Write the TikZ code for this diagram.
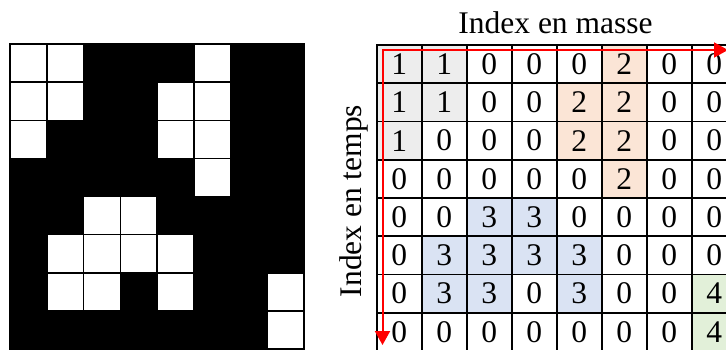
\documentclass[tikz,border=0pt]{standalone}
\usepackage{fontspec}
\setmainfont{Liberation Serif}
\usetikzlibrary{arrows.meta}
\definecolor{c0}{HTML}{FFFFFF}
\definecolor{c1}{HTML}{EDEDED}
\definecolor{c2}{HTML}{FBE5D6}
\definecolor{c3}{HTML}{DAE3F3}
\definecolor{c4}{HTML}{E2F0D9}
\colorlet{l0}{black}
\colorlet{l1}{white}
\colorlet{l2}{white}
\colorlet{l3}{white}
\colorlet{l4}{white}
\begin{document}
\begin{tikzpicture}[x=1pt,y=-1pt,
  numcell/.style={draw=black,line width=1.8pt,minimum width=45pt,minimum height=38.25pt,inner sep=0pt,outer sep=0pt,font=\fontsize{31.5}{36}\selectfont},
  pixcell/.style={draw=black,line width=1.5pt,minimum width=36.75pt,minimum height=38.125pt,inner sep=0pt,outer sep=0pt},
  axislabel/.style={font=\fontsize{31.5}{36}\selectfont,inner sep=0pt},
  redarrow/.style={draw=red,line width=2pt,line join=miter,{Triangle[length=14pt,width=15pt]}-{Triangle[length=14pt,width=15pt]}}]
\useasboundingbox (0,0) rectangle (726,349);
\clip (0,0) rectangle (726,349);
\def\matdata{{1,1,0,0,0,2,0,0},{1,1,0,0,2,2,0,0},{1,0,0,0,2,2,0,0},{0,0,0,0,0,2,0,0},{0,0,3,3,0,0,0,0},{0,3,3,3,3,0,0,0},{0,3,3,0,3,0,0,4},{0,0,0,0,0,0,0,4}}
% left binary image
\foreach \row [count=\r] in \matdata {
  \foreach \v [count=\c] in \row {
    \node[pixcell,fill=l\v] (p-\r-\c) at ({10+36.75*(\c-0.5)},{44+38.125*(\r-0.5)}) {};
  }
}
% right labelled matrix
\foreach \row [count=\r] in \matdata {
  \foreach \v [count=\c] in \row {
    \node[numcell,fill=c\v] (m-\r-\c) at ({376.7+45*(\c-0.5)},{45+38.25*(\r-0.5)}) {\v};
  }
}
\node[axislabel,anchor=base] (lmasse) at (555.5,33) {Index en masse};
\node[axislabel,anchor=base,rotate=90] (ltemps) at (361,201) {Index en temps};
\coordinate (o) at (382.5,50);
\coordinate (ex) at (728,50);
\coordinate (ey) at (382.5,345);
\draw[redarrow] (ex) -- (o) -- (ey);
\end{tikzpicture}
\end{document}
